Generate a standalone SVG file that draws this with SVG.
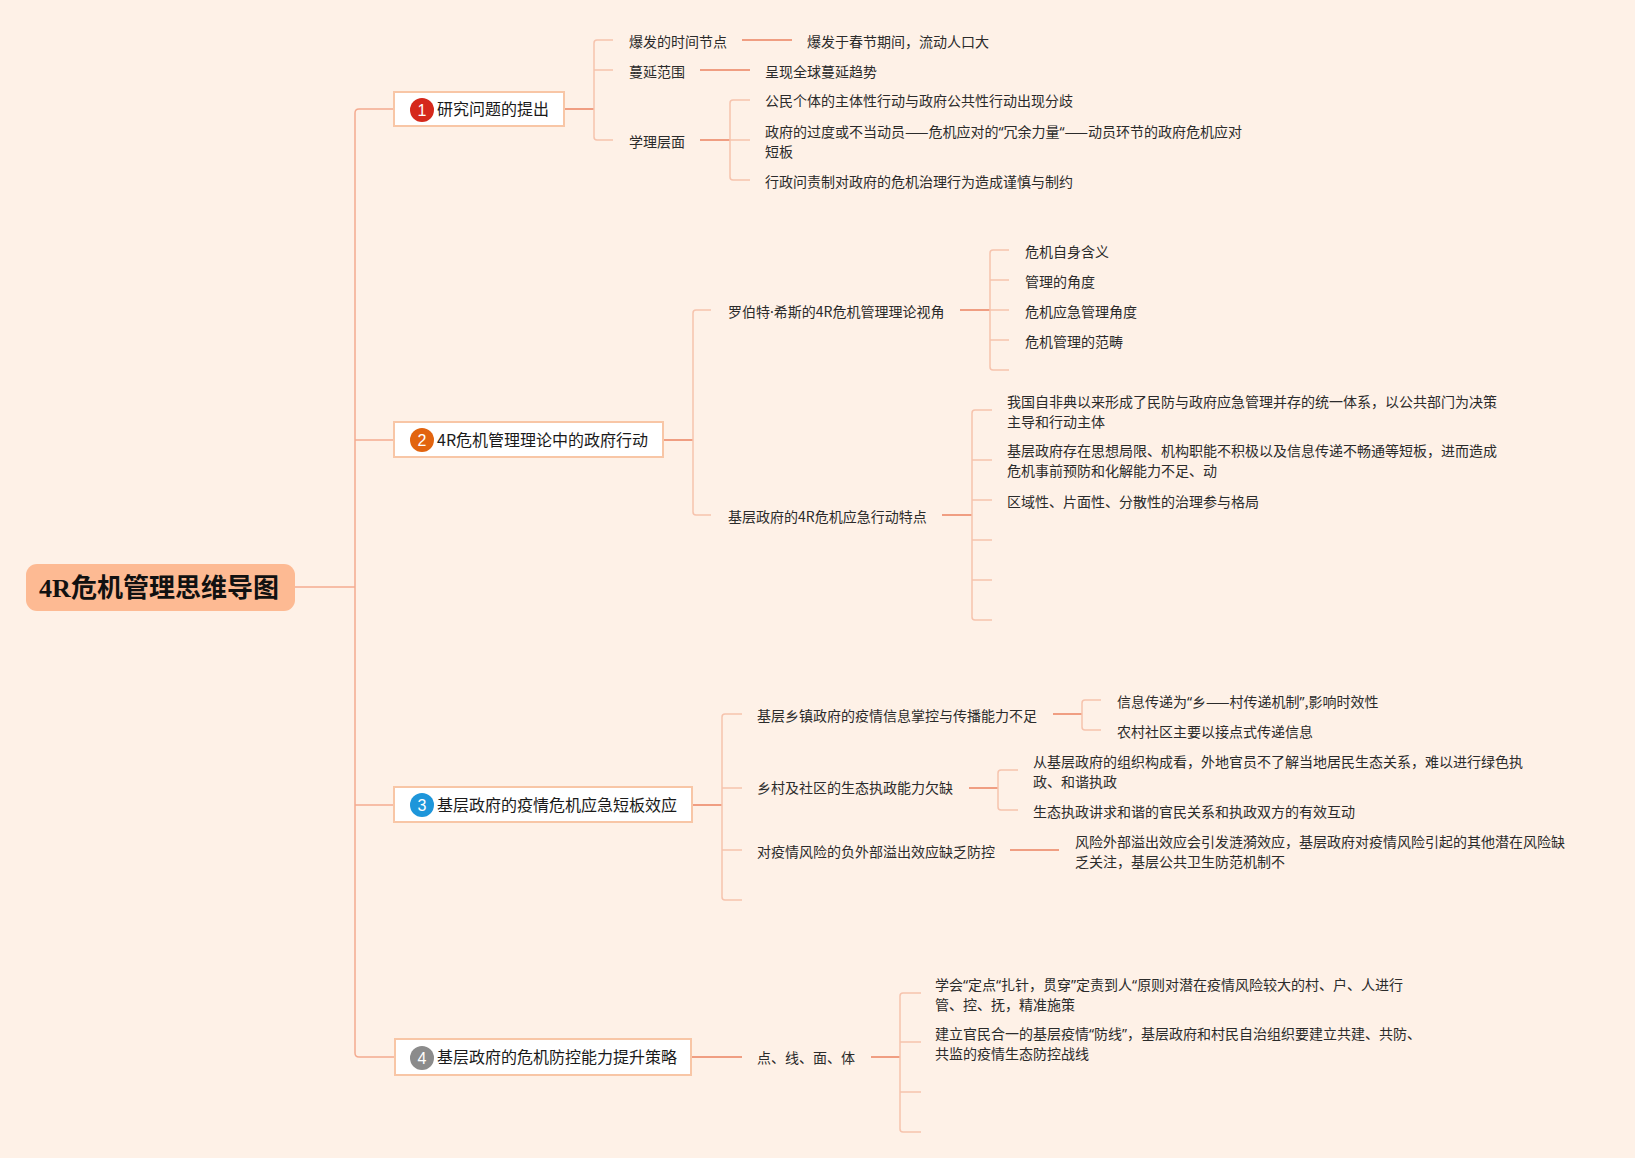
<svg xmlns="http://www.w3.org/2000/svg" width="1635" height="1158" viewBox="0 0 1635 1158">
<style>
.t{font-family:"Noto Sans CJK SC","Noto Sans",sans-serif;font-size:14px;fill:#2b2b2b}
.q{font-family:"Noto Sans","Noto Sans CJK SC",sans-serif}
.nt{font-family:"Noto Sans CJK SC","Noto Sans",sans-serif;font-size:16px;fill:#1a1a1a}
.num{font-family:"Liberation Sans","Noto Sans",sans-serif;font-size:16px;fill:#ffffff;text-anchor:middle}
.box{fill:#ffffff;stroke:#F8C6A6;stroke-width:2}
.trunk{fill:none;stroke:#F4AB90;stroke-width:1.5}
.main{fill:none;stroke:#F09E82;stroke-width:2}
.sub{fill:none;stroke:#F6C3AD;stroke-width:1.5}
</style>
<rect x="0" y="0" width="1635" height="1158" fill="#FEF1E7"/>
<g id="connectors">
<path class="trunk" d="M295 587 H355"/>
<path class="trunk" d="M394 109 H359 Q355 109 355 113 V1053 Q355 1057 359 1057 H395"/>
<path class="trunk" d="M355 440 H394"/>
<path class="trunk" d="M355 805 H394"/>
<path class="main" d="M564 109 H594"/>
<path class="sub" d="M613 40 H597 Q594 40 594 43 V137 Q594 140 597 140 H613"/>
<path class="sub" d="M594 70 H613"/>
<path class="main" d="M742 40 H792"/>
<path class="main" d="M700 70 H750"/>
<path class="main" d="M700 140 H730"/>
<path class="sub" d="M750 100 H733 Q730 100 730 103 V177 Q730 180 733 180 H750"/>
<path class="sub" d="M730 140 H750"/>
<path class="main" d="M663 440 H693"/>
<path class="sub" d="M711 310 H696 Q693 310 693 313 V512 Q693 515 696 515 H711"/>
<path class="main" d="M960 310 H990"/>
<path class="sub" d="M1009 250 H993 Q990 250 990 253 V367 Q990 370 993 370 H1009"/>
<path class="sub" d="M990 280 H1009 M990 310 H1009 M990 340 H1009"/>
<path class="main" d="M942 515 H972"/>
<path class="sub" d="M992 410 H975 Q972 410 972 413 V617 Q972 620 975 620 H992"/>
<path class="sub" d="M972 460 H992 M972 500 H992 M972 540 H992 M972 580 H992"/>
<path class="main" d="M692 805 H722"/>
<path class="sub" d="M742 714 H725 Q722 714 722 717 V897 Q722 900 725 900 H742"/>
<path class="sub" d="M722 788 H742 M722 850 H742"/>
<path class="main" d="M1053 714 H1082"/>
<path class="sub" d="M1101 700 H1085 Q1082 700 1082 703 V727 Q1082 730 1085 730 H1101"/>
<path class="main" d="M969 788 H998"/>
<path class="sub" d="M1018 770 H1001 Q998 770 998 773 V807 Q998 810 1001 810 H1018"/>
<path class="main" d="M1010 850 H1059"/>
<path class="main" d="M691 1057 H742"/>
<path class="main" d="M871 1057 H900"/>
<path class="sub" d="M921 993 H903 Q900 993 900 996 V1129 Q900 1132 903 1132 H921"/>
<path class="sub" d="M900 1042 H921 M900 1092 H921"/>
</g>
<g id="root">
<rect x="26" y="564" width="269" height="47" rx="11" fill="#FDBA93"/>
<text x="159" y="597" text-anchor="middle" font-family="'Liberation Serif','Noto Sans CJK SC',serif" font-size="26" font-weight="bold" fill="#111">4R危机管理思维导图</text>
</g>
<g id="node1">
<rect class="box" x="394" y="92" width="170" height="34"/>
<circle cx="422" cy="110" r="12" fill="#D5281B"/>
<text class="num" x="422" y="115.5">1</text>
<text class="nt" x="437" y="115">研究问题的提出</text>
</g>
<g id="node2">
<rect class="box" x="394" y="422" width="269" height="35"/>
<circle cx="422" cy="440" r="12" fill="#E2640F"/>
<text class="num" x="422" y="445.5">2</text>
<text class="nt" x="437" y="446">4R危机管理理论中的政府行动</text>
</g>
<g id="node3">
<rect class="box" x="394" y="787" width="298" height="35"/>
<circle cx="422" cy="805" r="12" fill="#1E96DA"/>
<text class="num" x="422" y="810.5">3</text>
<text class="nt" x="437" y="811">基层政府的疫情危机应急短板效应</text>
</g>
<g id="node4">
<rect class="box" x="395" y="1039" width="296" height="36"/>
<circle cx="422" cy="1058" r="12" fill="#8B8B8B"/>
<text class="num" x="422" y="1063.5">4</text>
<text class="nt" x="437" y="1063">基层政府的危机防控能力提升策略</text>
</g>
<g id="s1-time"><text class="t" x="629" y="47">爆发的时间节点</text></g>
<g id="s1-time-d"><text class="t" x="807" y="47">爆发于春节期间，流动人口大</text></g>
<g id="s1-range"><text class="t" x="629" y="77">蔓延范围</text></g>
<g id="s1-range-d"><text class="t" x="765" y="77">呈现全球蔓延趋势</text></g>
<g id="s1-theory"><text class="t" x="629" y="147">学理层面</text></g>
<g id="s1-t1"><text class="t" x="765" y="106">公民个体的主体性行动与政府公共性行动出现分歧</text></g>
<g id="s1-t2"><text class="t" x="765" y="137">政府的过度或不当动员——危机应对的<tspan class="q">“</tspan>冗余力量<tspan class="q">“</tspan>——动员环节的政府危机应对</text><text class="t" x="765" y="157">短板</text></g>
<g id="s1-t3"><text class="t" x="765" y="187">行政问责制对政府的危机治理行为造成谨慎与制约</text></g>
<g id="s2-a"><text class="t" x="728" y="317">罗伯特<tspan class="q">·</tspan>希斯的4R危机管理理论视角</text></g>
<g id="s2-a1"><text class="t" x="1025" y="257">危机自身含义</text></g>
<g id="s2-a2"><text class="t" x="1025" y="287">管理的角度</text></g>
<g id="s2-a3"><text class="t" x="1025" y="317">危机应急管理角度</text></g>
<g id="s2-a4"><text class="t" x="1025" y="347">危机管理的范畴</text></g>
<g id="s2-b"><text class="t" x="728" y="522">基层政府的4R危机应急行动特点</text></g>
<g id="s2-b1"><text class="t" x="1007" y="407">我国自非典以来形成了民防与政府应急管理并存的统一体系，以公共部门为决策</text><text class="t" x="1007" y="427">主导和行动主体</text></g>
<g id="s2-b2"><text class="t" x="1007" y="456">基层政府存在思想局限、机构职能不积极以及信息传递不畅通等短板，进而造成</text><text class="t" x="1007" y="476">危机事前预防和化解能力不足、动</text></g>
<g id="s2-b3"><text class="t" x="1007" y="507">区域性、片面性、分散性的治理参与格局</text></g>
<g id="s3-a"><text class="t" x="757" y="721">基层乡镇政府的疫情信息掌控与传播能力不足</text></g>
<g id="s3-a1"><text class="t" x="1117" y="707">信息传递为<tspan class="q">“</tspan>乡——村传递机制<tspan class="q">”</tspan>,影响时效性</text></g>
<g id="s3-a2"><text class="t" x="1117" y="737">农村社区主要以接点式传递信息</text></g>
<g id="s3-b"><text class="t" x="757" y="793">乡村及社区的生态执政能力欠缺</text></g>
<g id="s3-b1"><text class="t" x="1033" y="767">从基层政府的组织构成看，外地官员不了解当地居民生态关系，难以进行绿色执</text><text class="t" x="1033" y="787">政、和谐执政</text></g>
<g id="s3-b2"><text class="t" x="1033" y="817">生态执政讲求和谐的官民关系和执政双方的有效互动</text></g>
<g id="s3-c"><text class="t" x="757" y="857">对疫情风险的负外部溢出效应缺乏防控</text></g>
<g id="s3-c1"><text class="t" x="1075" y="847">风险外部溢出效应会引发涟漪效应，基层政府对疫情风险引起的其他潜在风险缺</text><text class="t" x="1075" y="867">乏关注，基层公共卫生防范机制不</text></g>
<g id="s4-a"><text class="t" x="757" y="1063">点、线、面、体</text></g>
<g id="s4-a1"><text class="t" x="935" y="990">学会<tspan class="q">“</tspan>定点<tspan class="q">“</tspan>扎针，贯穿<tspan class="q">”</tspan>定责到人<tspan class="q">“</tspan>原则对潜在疫情风险较大的村、户、人进行</text><text class="t" x="935" y="1010">管、控、抚，精准施策</text></g>
<g id="s4-a2"><text class="t" x="935" y="1039">建立官民合一的基层疫情<tspan class="q">“</tspan>防线<tspan class="q">”</tspan>，基层政府和村民自治组织要建立共建、共防、</text><text class="t" x="935" y="1059">共监的疫情生态防控战线</text></g>
</svg>
